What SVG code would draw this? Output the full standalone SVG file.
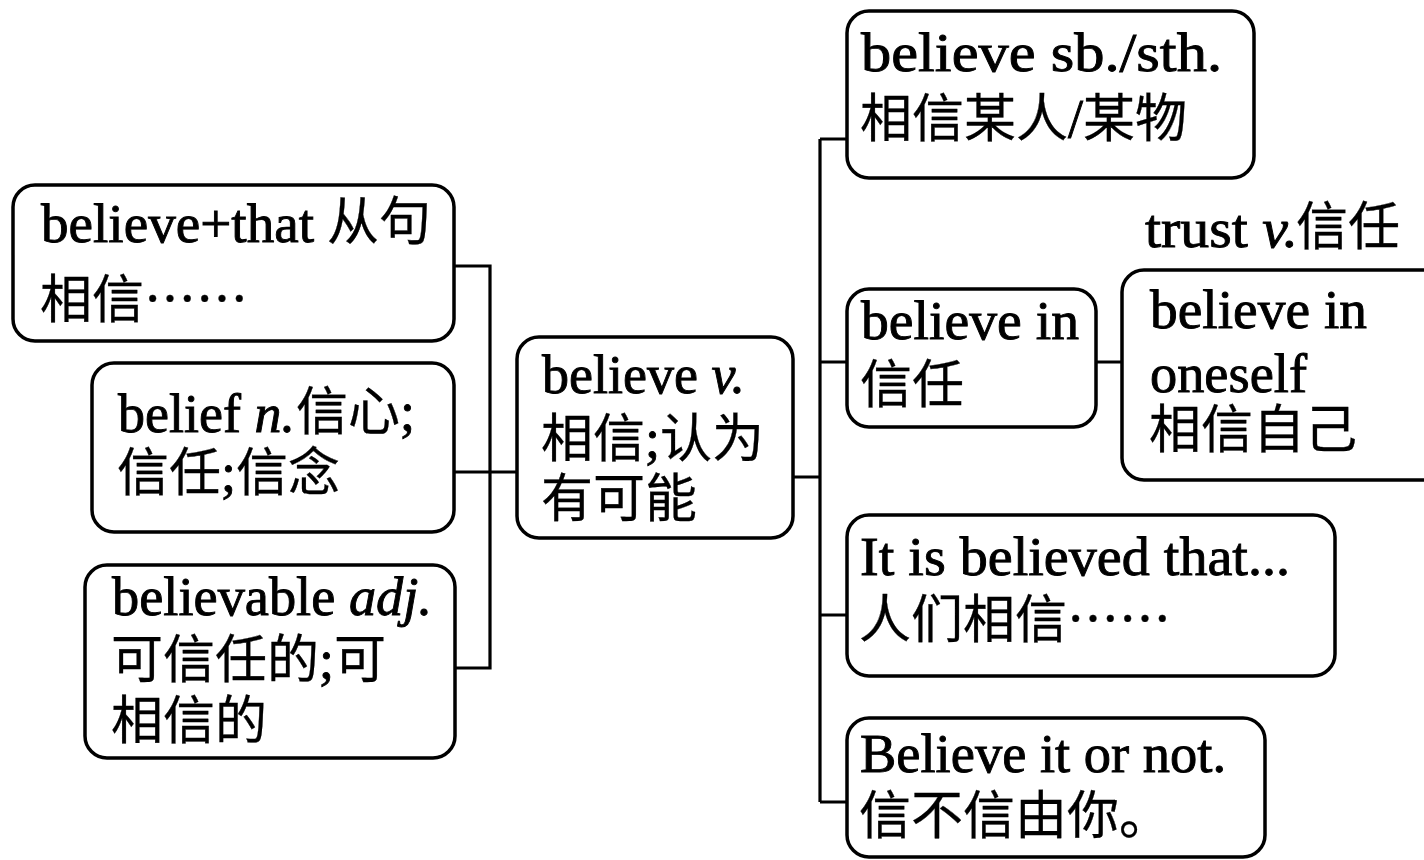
<svg xmlns="http://www.w3.org/2000/svg" width="1424" height="860" viewBox="0 0 1424 860">
<style>
.box{fill:#fff;stroke:#000;stroke-width:3.5}
.ln{fill:none;stroke:#000;stroke-width:3.2}
text{font-family:"Liberation Serif","Noto Sans CJK SC",serif;font-size:54px;fill:#000;stroke:#000;stroke-width:0.9}
.cj{font-family:"Noto Sans CJK SC",sans-serif;font-size:52px;stroke-width:0.3}
.it{font-style:italic}
</style>
<rect width="1424" height="860" fill="#fff"/>
<g id="connectors">
<path class="ln" d="M454,266 H490 V668 H455 M454,472 H517"/>
<path class="ln" d="M793,477 H820 M820,139 V802 M820,139 H847 M820,362 H847 M820,615 H847 M820,802 H847 M1096,362 H1122"/>
</g>
<g id="n-that">
<rect class="box" x="13" y="185" width="441" height="156" rx="22"/>
<text x="41" y="242" textLength="273" lengthAdjust="spacingAndGlyphs">believe+that</text>
<text class="cj" x="327" y="240">从句</text>
<text class="cj" x="40" y="318">相信……</text>
</g>
<g id="n-belief">
<rect class="box" x="92" y="363" width="362" height="169" rx="22"/>
<text x="118" y="432">belief <tspan class="it">n.</tspan></text>
<text x="296" y="430"><tspan class="cj">信心</tspan>;</text>
<text x="117" y="491"><tspan class="cj">信任</tspan>;<tspan class="cj">信念</tspan></text>
</g>
<g id="n-believable">
<rect class="box" x="85" y="565" width="370" height="193" rx="22"/>
<text x="112" y="615" textLength="320" lengthAdjust="spacingAndGlyphs">believable <tspan class="it">adj.</tspan></text>
<text x="111" y="678"><tspan class="cj">可信任的</tspan>;<tspan class="cj">可</tspan></text>
<text class="cj" x="111" y="739">相信的</text>
</g>
<g id="n-center">
<rect class="box" x="517" y="337" width="276" height="201" rx="22"/>
<text x="542" y="393" textLength="203" lengthAdjust="spacingAndGlyphs">believe <tspan class="it">v.</tspan></text>
<text x="541" y="457"><tspan class="cj">相信</tspan>;<tspan class="cj">认为</tspan></text>
<text class="cj" x="541" y="517">有可能</text>
</g>
<g id="n-sbsth">
<rect class="box" x="847" y="11" width="407" height="167" rx="22"/>
<text x="861" y="71" textLength="361" lengthAdjust="spacingAndGlyphs">believe sb./sth.</text>
<text x="860" y="137"><tspan class="cj">相信某人</tspan>/<tspan class="cj">某物</tspan></text>
</g>
<g id="n-in">
<rect class="box" x="847" y="289" width="249" height="138" rx="22"/>
<text x="861" y="339" textLength="218" lengthAdjust="spacingAndGlyphs">believe in</text>
<text class="cj" x="860" y="403">信任</text>
</g>
<g id="n-trust">
<text x="1145" y="247" textLength="153" lengthAdjust="spacingAndGlyphs">trust <tspan class="it">v.</tspan></text>
<text class="cj" x="1296" y="245">信任</text>
</g>
<g id="n-oneself">
<rect class="box" x="1122" y="270" width="340" height="210" rx="22"/>
<text x="1150" y="328" textLength="217" lengthAdjust="spacingAndGlyphs">believe in</text>
<text x="1150" y="392" textLength="157" lengthAdjust="spacingAndGlyphs">oneself</text>
<text class="cj" x="1149" y="448">相信自己</text>
</g>
<g id="n-itis">
<rect class="box" x="847" y="515" width="488" height="161" rx="22"/>
<text x="860" y="575" textLength="430" lengthAdjust="spacingAndGlyphs">It is believed that...</text>
<text class="cj" x="859" y="638">人们相信……</text>
</g>
<g id="n-ornot">
<rect class="box" x="847" y="718" width="418" height="139" rx="22"/>
<text x="860" y="772" textLength="366" lengthAdjust="spacingAndGlyphs">Believe it or not.</text>
<text class="cj" x="859" y="834">信不信由你。</text>
</g>
</svg>
